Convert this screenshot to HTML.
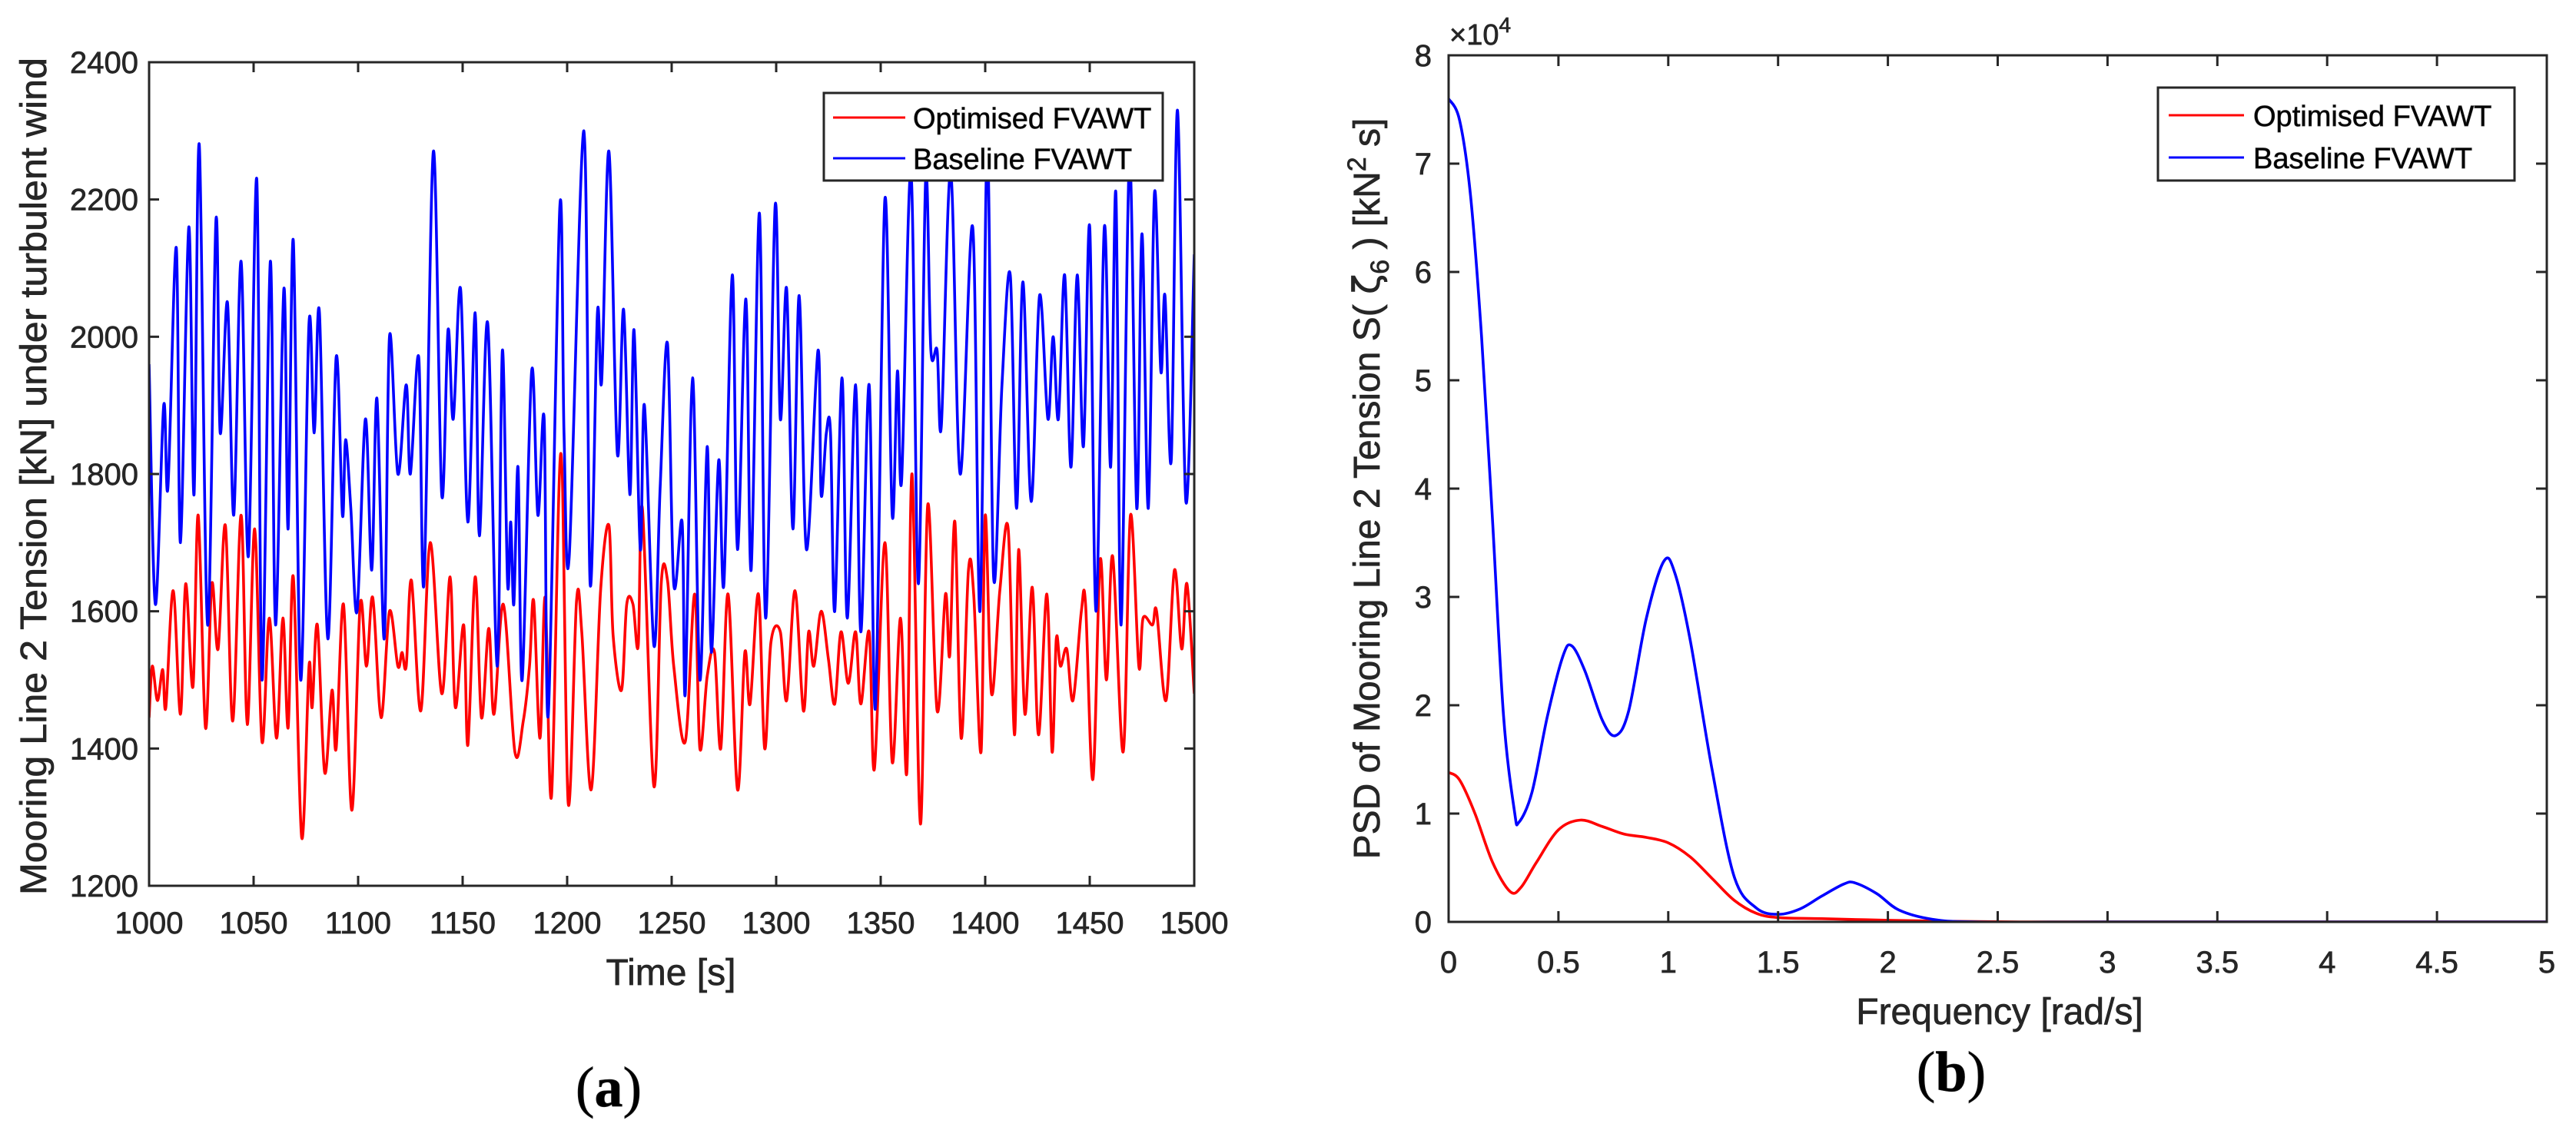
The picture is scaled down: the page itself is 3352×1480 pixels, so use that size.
<!DOCTYPE html>
<html><head><meta charset="utf-8"><style>
html,body{margin:0;padding:0;background:#fff;}
svg{display:block;font-family:"Liberation Sans",Arial,sans-serif;}
svg text{stroke:currentColor;stroke-width:0.7px;}
</style></head><body>
<svg id="fig" width="3352" height="1480" viewBox="0 0 3352 1480" style="color:#262626">
<rect width="3352" height="1480" fill="#fff"/>
</svg>
<script>
// ---------- Panel (a) data ----------
const tsTimes = [1000,1003,1007,1009,1013,1015,1019,1021.5,1024,1028,1032,1034,1037.5,1040.5,1044,1047.5,1051.5,1054,1058,1060.5,1064.5,1066.5,1069,1072.5,1076.5,1079,1081.5,1085.5,1089.5,1092.5,1094,1096.5,1099.5,1103.5,1106.5,1109,1112.5,1115,1119,1123,1125,1129,1131.5,1136,1140,1143,1145.5,1149,1152.5,1156,1158,1162,1166.5,1169,1171.5,1173,1174.5,1176.5,1178.5,1183,1186,1189,1191,1196.5,1198.5,1201,1208,1211,1214.5,1216.5,1220,1224,1227,1230,1232,1235,1237,1241.5,1244.5,1248,1251,1255,1256.5,1260,1263.5,1267,1269,1272.5,1275,1279,1281.5,1285.5,1288,1292,1295,1299.5,1302,1305,1308,1311,1314.5,1320,1321.5,1324,1326,1328,1331.5,1334,1338,1340.5,1344.5,1347.5,1352,1355.5,1358,1360,1364.5,1368,1371.5,1374,1377,1379,1383.5,1388,1394,1397.5,1401,1404,1408,1412,1415,1418,1422,1426,1430,1432.5,1435,1438,1441,1444,1447,1450,1453,1457,1460,1462.5,1465,1469,1472.5,1475,1478,1481,1484,1486,1489,1492,1496,1500];
const baselineTension = [1960,1610,1900,1780,2130,1700,2160,1770,2280,1580,2170,1860,2050,1740,2110,1680,2230,1500,2110,1580,2070,1720,2140,1500,2020,1860,2035,1560,1970,1740,1850,1750,1600,1880,1660,1910,1560,2000,1800,1930,1800,1970,1640,2270,1770,2010,1880,2070,1730,2035,1710,2020,1520,1980,1640,1730,1610,1810,1500,1950,1740,1880,1450,2190,1860,1680,2300,1640,2035,1935,2270,1830,2040,1770,2010,1690,1900,1550,1780,1990,1640,1730,1480,1940,1500,1840,1540,1820,1640,2090,1690,2055,1660,2180,1590,2190,1880,2070,1720,2060,1690,1980,1770,1860,1860,1600,1940,1590,1930,1570,1930,1460,2200,1740,1950,1790,2240,1640,2230,1980,1980,1870,2240,1800,2160,1600,2280,1650,1930,2090,1750,2080,1760,2060,1880,2000,1880,2090,1810,2090,1840,2160,1600,2160,1810,2210,1580,2260,1750,2150,1750,2210,1950,2060,1820,2330,1760,2120];
const optTimes = [1000,1001.5,1004,1006.5,1008,1011.5,1015,1017.5,1021,1023.5,1027,1030,1033,1036.5,1040,1044,1047,1050.5,1054,1057.5,1061,1064,1066.5,1069,1073,1076.5,1078,1080.5,1084,1087.5,1089.5,1093,1097,1101,1104,1107,1111,1115,1119,1121,1123,1125.5,1130,1134.5,1140,1144,1146.5,1150.5,1152.5,1156,1159,1162.5,1165,1169.5,1175,1179,1182,1184,1187,1189.5,1192.5,1197,1200.5,1204.5,1207,1211.5,1216,1220,1222,1226,1228.5,1231.5,1234,1236,1241.5,1245,1248,1251,1256.5,1261,1263.5,1267,1270.5,1273.5,1277,1281.5,1285,1287.5,1291.5,1294.5,1297.5,1302,1305,1309,1313,1315.5,1318,1321.5,1325,1328,1331,1334.5,1338,1340.5,1344.5,1347,1352,1355.5,1359.5,1362.5,1365,1369,1372.5,1377,1381,1383,1385.5,1388.5,1392,1394.5,1398,1400,1403,1407,1411,1414,1416,1419,1422.5,1425.5,1429.5,1432,1434,1436,1439,1442,1446,1448,1451.5,1455,1458,1461,1466,1469.5,1473.5,1475.5,1480,1482,1486.5,1490.5,1494,1496.5,1500];
const optimisedTension = [1445,1520,1470,1515,1460,1630,1450,1640,1490,1740,1430,1640,1545,1725,1440,1740,1435,1720,1410,1590,1415,1590,1430,1650,1270,1520,1460,1580,1365,1485,1400,1610,1310,1610,1520,1620,1445,1600,1520,1540,1520,1645,1455,1700,1480,1650,1460,1580,1405,1650,1445,1575,1450,1610,1395,1440,1520,1615,1415,1620,1330,1830,1320,1615,1570,1340,1630,1725,1565,1485,1610,1610,1550,1750,1345,1640,1645,1520,1410,1625,1400,1505,1540,1400,1625,1340,1540,1465,1625,1400,1555,1570,1470,1630,1455,1570,1520,1600,1530,1465,1570,1495,1570,1465,1570,1370,1700,1380,1590,1365,1800,1290,1755,1455,1625,1535,1730,1415,1660,1625,1395,1740,1480,1630,1720,1420,1690,1450,1635,1420,1625,1395,1560,1520,1545,1470,1600,1610,1355,1675,1500,1680,1395,1740,1520,1590,1580,1600,1470,1660,1545,1640,1480];
const aXTicks = [1000,1050,1100,1150,1200,1250,1300,1350,1400,1450,1500];
const aYTicks = [1200,1400,1600,1800,2000,2200,2400];

// ---------- Panel (b) data ----------
const freqBaseline = [0,0.05,0.1,0.15,0.2,0.25,0.3,0.32,0.38,0.45,0.52,0.56,0.62,0.7,0.76,0.82,0.9,0.98,1.03,1.1,1.2,1.3,1.4,1.5,1.6,1.7,1.8,1.85,1.95,2.05,2.2,2.4,3,4,5];
const psdBaseline = [76000,74000,67000,54000,37000,19000,10200,9200,12000,19000,24500,25500,23200,18600,17200,19500,28000,33300,32200,26000,14000,4200,1300,700,1200,2400,3500,3600,2600,1100,250,0,0,0,0];
const freqOptimised = [0,0.05,0.12,0.2,0.28,0.33,0.4,0.5,0.6,0.7,0.8,0.9,1.0,1.1,1.2,1.3,1.4,1.5,1.7,2.0,2.3,2.6,3,4,5];
const psdOptimised = [13800,13100,10000,5500,2800,3200,5500,8500,9400,8800,8100,7800,7300,6000,4000,2000,800,400,300,150,50,0,0,0,0];
const bXTicks = [0,0.5,1,1.5,2,2.5,3,3.5,4,4.5,5];
const bXLabels = ["0","0.5","1","1.5","2","2.5","3","3.5","4","4.5","5"];
const bYTicks = [0,1,2,3,4,5,6,7,8];

const NS = "http://www.w3.org/2000/svg";
const svg = document.getElementById('fig');
const INK = "#262626";
const LW = 3.6;
function mk(tag, attrs, parent){ const e=document.createElementNS(NS,tag); for(const k in attrs) e.setAttribute(k,attrs[k]); (parent||svg).appendChild(e); return e; }
function smoothPath(pts){
  let d = "M"+pts[0][0].toFixed(1)+","+pts[0][1].toFixed(1);
  for(let i=0;i<pts.length-1;i++){
    const p0=pts[Math.max(0,i-1)], p1=pts[i], p2=pts[i+1], p3=pts[Math.min(pts.length-1,i+2)];
    const c1=[p1[0]+(p2[0]-p0[0])/6, p1[1]+(p2[1]-p0[1])/6];
    const c2=[p2[0]-(p3[0]-p1[0])/6, p2[1]-(p3[1]-p1[1])/6];
    d+=" C"+c1[0].toFixed(1)+","+c1[1].toFixed(1)+" "+c2[0].toFixed(1)+","+c2[1].toFixed(1)+" "+p2[0].toFixed(1)+","+p2[1].toFixed(1);
  }
  return d;
}

// ===== Panel (a) =====
const A = {l:194,r:1554,t:81,b:1153};
const ax = v => A.l + (v-1000)/500*(A.r-A.l);
const ay = v => A.b - (v-1200)/1200*(A.b-A.t);
const gA = mk('g',{});  
const clipA = mk('clipPath',{id:'clipA'},gA); mk('rect',{x:A.l,y:A.t,width:A.r-A.l,height:A.b-A.t},clipA);
const optA = mk('path',{d:smoothPath(optTimes.map((t,i)=>[ax(t),ay(optimisedTension[i])])),fill:'none',stroke:'#ff0000','stroke-width':LW,'clip-path':'url(#clipA)'},gA);
 
const baseA = mk('path',{d:smoothPath(tsTimes.map((t,i)=>[ax(t),ay(baselineTension[i])])),fill:'none',stroke:'#0000ff','stroke-width':LW,'clip-path':'url(#clipA)'},gA);
 
const boxA = mk('rect',{x:A.l,y:A.t,width:A.r-A.l,height:A.b-A.t,fill:'none',stroke:INK,'stroke-width':3},gA);
 
aXTicks.forEach(v=>{
  const x=ax(v);
  mk('line',{x1:x,y1:A.b,x2:x,y2:A.b-13,stroke:INK,'stroke-width':3},gA);
  mk('line',{x1:x,y1:A.t,x2:x,y2:A.t+13,stroke:INK,'stroke-width':3},gA);
  const t=mk('text',{x:x,y:A.b+62,'text-anchor':'middle','font-size':40,fill:INK},gA); t.textContent=v;
   
});
aYTicks.forEach(v=>{
  const y=ay(v);
  mk('line',{x1:A.l,y1:y,x2:A.l+13,y2:y,stroke:INK,'stroke-width':3},gA);
  mk('line',{x1:A.r,y1:y,x2:A.r-13,y2:y,stroke:INK,'stroke-width':3},gA);
  const t=mk('text',{x:A.l-14,y:y+14,'text-anchor':'end','font-size':40,fill:INK},gA); t.textContent=v;
   
});

const gA2 = mk('g',{});
 
let t;
t = mk('text',{x:873,y:1282,'text-anchor':'middle','font-size':48,fill:INK},gA2); t.textContent='Time [s]';
 
t = mk('text',{x:0,y:0,'text-anchor':'middle','font-size':48,fill:INK,transform:'translate(60,620) rotate(-90)',textLength:1090,lengthAdjust:'spacingAndGlyphs'},gA2); t.textContent='Mooring Line 2 Tension [kN] under turbulent wind';
 
t = mk('text',{x:792,y:1440,'text-anchor':'middle','font-size':74,fill:'#000','font-family':'Liberation Serif, serif'},gA2);
t.innerHTML='(<tspan font-weight="bold">a</tspan>)';
 
const legA = mk('g',{},gA2);  
mk('rect',{x:1072,y:121,width:441,height:114,fill:'#fff',stroke:INK,'stroke-width':3},legA);
mk('line',{x1:1084,y1:153,x2:1178,y2:153,stroke:'#ff0000','stroke-width':3},legA);
mk('line',{x1:1084,y1:206,x2:1178,y2:206,stroke:'#0000ff','stroke-width':3},legA);
t=mk('text',{x:1188,y:167,'font-size':38,fill:'#000'},legA); t.textContent='Optimised FVAWT';
 
t=mk('text',{x:1188,y:220,'font-size':38,fill:'#000'},legA); t.textContent='Baseline FVAWT';
 

// ===== Panel (b) =====
const B = {l:1885,r:3314,t:72,b:1200};
const bx = v => B.l + v/5*(B.r-B.l);
const by = v => B.b - v/80000*(B.b-B.t);
const gB = mk('g',{});  
const clipB = mk('clipPath',{id:'clipB'},gB); mk('rect',{x:B.l,y:B.t,width:B.r-B.l,height:B.b-B.t},clipB);
const optB = mk('path',{d:smoothPath(freqOptimised.map((f,i)=>[bx(f),by(psdOptimised[i])])),fill:'none',stroke:'#ff0000','stroke-width':LW,'clip-path':'url(#clipB)'},gB);
 
const baseB = mk('path',{d:smoothPath(freqBaseline.map((f,i)=>[bx(f),by(psdBaseline[i])])),fill:'none',stroke:'#0000ff','stroke-width':LW,'clip-path':'url(#clipB)'},gB);
 
const boxB = mk('rect',{x:B.l,y:B.t,width:B.r-B.l,height:B.b-B.t,fill:'none',stroke:INK,'stroke-width':3},gB);
 
bXTicks.forEach((v,i)=>{
  const x=bx(v);
  mk('line',{x1:x,y1:B.b,x2:x,y2:B.b-14,stroke:INK,'stroke-width':3},gB);
  mk('line',{x1:x,y1:B.t,x2:x,y2:B.t+14,stroke:INK,'stroke-width':3},gB);
  const tt=mk('text',{x:x,y:B.b+66,'text-anchor':'middle','font-size':40,fill:INK},gB); tt.textContent=bXLabels[i];
   
});
bYTicks.forEach(v=>{
  const y=by(v*10000);
  mk('line',{x1:B.l,y1:y,x2:B.l+14,y2:y,stroke:INK,'stroke-width':3},gB);
  mk('line',{x1:B.r,y1:y,x2:B.r-14,y2:y,stroke:INK,'stroke-width':3},gB);
  const tt=mk('text',{x:B.l-22,y:y+14,'text-anchor':'end','font-size':40,fill:INK},gB); tt.textContent=v;
   
});
t=mk('text',{x:1886,y:58,'font-size':38,fill:INK},gB);
t.innerHTML='×10<tspan dy="-16" font-size="28">4</tspan>';
 
t=mk('text',{x:2602,y:1333,'text-anchor':'middle','font-size':48,fill:INK},gB); t.textContent='Frequency [rad/s]';
 
t=mk('text',{x:0,y:0,'text-anchor':'middle','font-size':48,fill:INK,transform:'translate(1795,636) rotate(-90)'},gB);
t.innerHTML='PSD of Mooring Line 2 Tension S( <tspan font-family="DejaVu Sans">ζ</tspan><tspan font-size="34" dy="12">6</tspan><tspan dy="-12"> ) [kN</tspan><tspan font-size="34" dy="-18">2</tspan><tspan dy="18"> s]</tspan>';
 
t=mk('text',{x:2539,y:1420,'text-anchor':'middle','font-size':74,fill:'#000','font-family':'Liberation Serif, serif'},gB);
t.innerHTML='(<tspan font-weight="bold">b</tspan>)';
 
const legB = mk('g',{},gB);  
mk('rect',{x:2808,y:114,width:464,height:121,fill:'#fff',stroke:INK,'stroke-width':3},legB);
mk('line',{x1:2822,y1:150,x2:2920,y2:150,stroke:'#ff0000','stroke-width':3},legB);
mk('line',{x1:2822,y1:205,x2:2920,y2:205,stroke:'#0000ff','stroke-width':3},legB);
t=mk('text',{x:2932,y:164,'font-size':38,fill:'#000'},legB); t.textContent='Optimised FVAWT';
 
t=mk('text',{x:2932,y:219,'font-size':38,fill:'#000'},legB); t.textContent='Baseline FVAWT';
 
</script>
</body></html>
